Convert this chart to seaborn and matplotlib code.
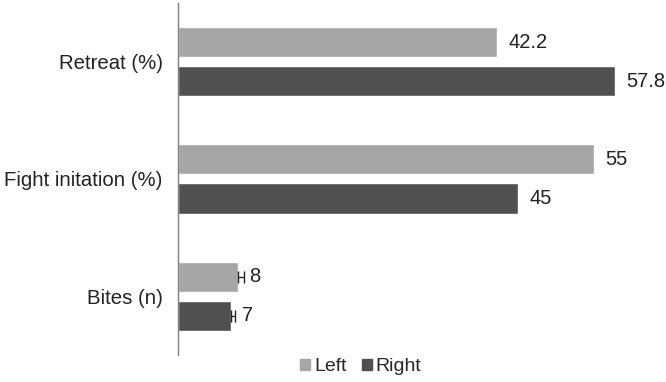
import pandas as pd
import numpy as np
import matplotlib.pyplot as plt
import seaborn as sns
from matplotlib.patches import Patch

# Data
categories = ['Retreat (%)', 'Fight initation (%)', 'Bites (n)']
left_vals = [42.2, 55, 8]
right_vals = [57.8, 45, 7]
bites_err = {'Left': 0.8, 'Right': 0.6}

sns.set_style("white")
plt.rcParams['font.family'] = ['Liberation Sans', 'DejaVu Sans']

df = pd.DataFrame({
    'category': categories * 2,
    'value': left_vals + right_vals,
    'side': ['Left'] * 3 + ['Right'] * 3,
})

fig = plt.figure(figsize=(6.66, 3.82), dpi=100)
ax = fig.add_axes([0.267, 0.071, 0.718, 0.921])

sns.barplot(data=df, y='category', x='value', hue='side', orient='h',
            palette={'Left': '#a6a6a6', 'Right': '#505050'},
            width=0.667, gap=0.23, errorbar=None, ax=ax, legend=False)

ax.set_xlim(0, 63.2)
ax.set_ylim(2.5, -0.5)
ax.set_xlabel('')
ax.set_ylabel('')
ax.set_xticks([])
ax.tick_params(axis='y', length=0, pad=11, labelsize=14.7, colors='#222222')
for s in ['top', 'right', 'bottom']:
    ax.spines[s].set_visible(False)
ax.spines['left'].set_color('#808080')
ax.spines['left'].set_linewidth(1)

# error bars on the bites bars
for cont, side in zip(ax.containers, ['Left', 'Right']):
    bar = cont[2]
    y = bar.get_y() + bar.get_height() / 2
    ax.errorbar(bar.get_width(), y, xerr=[[0], [bites_err[side]]],
                fmt='none', ecolor='#222222', elinewidth=1, capsize=4)
    ax.bar_label(cont, fmt='%g', padding=8, fontsize=14.5, color='#222222')

handles = [Patch(color='#a6a6a6', label='Left'), Patch(color='#505050', label='Right')]
fig.legend(handles=handles, loc='center', bbox_to_anchor=(0.542, 0.04), ncol=2,
           frameon=False, fontsize=14, handlelength=0.5, handleheight=0.5,
           handletextpad=0.2, columnspacing=0.8)

fig.savefig('out.png', dpi=100)
